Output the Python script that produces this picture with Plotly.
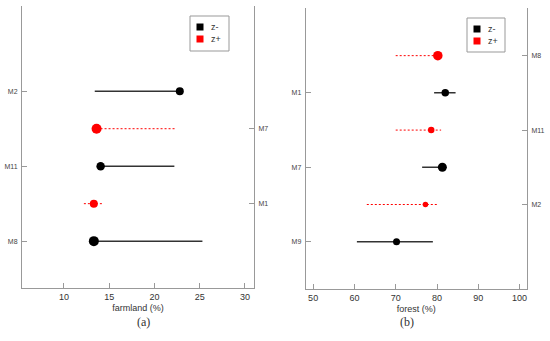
import plotly.graph_objects as go

# ---------------- data ----------------
# Panel (a): farmland (%) -- listed bottom to top
a_models = ["M8", "M1", "M11", "M7", "M2"]
a_group = ["z-", "z+", "z-", "z+", "z-"]
a_point = [13.3, 13.3, 14.05, 13.6, 22.8]
a_low = [13.3, 12.2, 14.05, 13.6, 13.4]
a_high = [25.3, 14.4, 22.2, 22.3, 22.8]
a_size = [10, 8, 8.5, 10, 8]

# Panel (b): forest (%) -- listed bottom to top
b_models = ["M9", "M2", "M7", "M11", "M1", "M8"]
b_group = ["z-", "z+", "z-", "z+", "z-", "z+"]
b_point = [70.2, 77.2, 81.3, 78.6, 82.0, 80.2]
b_low = [60.6, 63.0, 76.4, 70.0, 79.3, 70.0]
b_high = [79.0, 80.4, 81.3, 81.0, 84.5, 80.2]
b_size = [7, 5.5, 9, 6.5, 7.5, 9.5]

a_xticks = [10, 15, 20, 25, 30]
b_xticks = [50, 60, 70, 80, 90, 100]

legend_names = ["z-", "z+"]

COL = {"z-": "black", "z+": "red"}
LINE = {"z-": dict(color="#333333", width=1.5, dash="solid"),
        "z+": dict(color="red", width=1, dash="2px,2px")}
AX = "#999999"
FONT = "Liberation Sans, Arial, sans-serif"

fig = go.Figure()


def add_panel(models, group, point, low, high, size, xa, ya_left, ya_right):
    pos = list(range(1, len(models) + 1))
    yref = {"z-": ya_left, "z+": ya_right}
    for g in legend_names:
        xs, ys = [], []
        for p, gg, lo, hi in zip(pos, group, low, high):
            if gg == g:
                xs += [lo, hi, None]
                ys += [p, p, None]
        fig.add_trace(go.Scatter(x=xs, y=ys, mode="lines", line=LINE[g],
                                 xaxis=xa, yaxis=yref[g], showlegend=False,
                                 hoverinfo="skip"))
    for g in legend_names:
        idx = [i for i, gg in enumerate(group) if gg == g]
        fig.add_trace(go.Scatter(
            x=[point[i] for i in idx], y=[pos[i] for i in idx],
            mode="markers",
            marker=dict(color=COL[g], size=[size[i] for i in idx],
                        opacity=1, line=dict(width=0)),
            text=[models[i] for i in idx],
            xaxis=xa, yaxis=yref[g], showlegend=False, name=g))


add_panel(a_models, a_group, a_point, a_low, a_high, a_size, "x", "y", "y2")
add_panel(b_models, b_group, b_point, b_low, b_high, b_size, "x2", "y3", "y4")


def yax(models, group, want, rng, domain, side, anchor, overlay=None):
    pos = list(range(1, len(models) + 1))
    tv = [p for p, g in zip(pos, group) if g == want]
    tt = [m for m, g in zip(models, group) if g == want]
    d = dict(range=rng, domain=domain, side=side, anchor=anchor,
             tickvals=tv, ticktext=tt, showline=True, linecolor=AX, linewidth=1,
             ticks="inside", ticklen=5, tickcolor=AX, showgrid=False,
             zeroline=False, tickfont=dict(size=7, color="#444444", family=FONT),
             fixedrange=True, automargin=False, ticklabelstandoff=2)
    if overlay:
        d["overlaying"] = overlay
    return d


ya_dom = [0.1554, 0.982]
yb_dom = [0.1525, 0.9765]
xa_dom = [0.04, 0.4618]
xb_dom = [0.5558, 0.9582]


def xax(rng, domain, anchor, ticks, title):
    return dict(range=rng, domain=domain, anchor=anchor, tickvals=ticks,
                showline=True, linecolor=AX, linewidth=1, ticks="inside",
                ticklen=5, tickcolor=AX, showgrid=False, zeroline=False,
                automargin=False,
                tickfont=dict(size=9, color="#333333", family=FONT),
                title=dict(text=title, font=dict(size=9, color="#333333", family=FONT),
                           standoff=3))


# hand-drawn legend boxes (box, key squares, labels) in pixel->paper coords
W, H = 550, 341


def px(x):
    return x / W


def py(y):
    return (H - y) / H


shapes = []
annotations = []
for (bx0, by0, bx1, by1) in [(190, 16, 229, 51), (467, 18, 505, 52)]:
    shapes.append(dict(type="rect", xref="paper", yref="paper",
                       x0=px(bx0), x1=px(bx1), y0=py(by1), y1=py(by0),
                       line=dict(color="#999999", width=1), fillcolor="white"))
    for k, name in enumerate(legend_names):
        cy = by0 + 11 + k * 12
        sx = bx0 + 10
        shapes.append(dict(type="rect", xref="paper", yref="paper",
                           x0=px(sx - 3.5), x1=px(sx + 3.5),
                           y0=py(cy + 3.5), y1=py(cy - 3.5),
                           line=dict(width=0), fillcolor=COL[name]))
        annotations.append(dict(text=name, x=px(sx + 9), y=py(cy), xref="paper",
                                yref="paper", xanchor="left", yanchor="middle",
                                showarrow=False,
                                font=dict(size=9, color="#333333", family=FONT)))

annotations += [
    dict(text="(a)", x=px(135), y=py(331), xref="paper", yref="paper",
         showarrow=False, font=dict(size=12, color="#333333",
                                    family="Liberation Serif, serif")),
    dict(text="(b)", x=px(416), y=py(331), xref="paper", yref="paper",
         showarrow=False, font=dict(size=12, color="#333333",
                                    family="Liberation Serif, serif")),
]

fig.update_layout(
    width=550, height=341, margin=dict(l=0, r=0, t=0, b=0),
    paper_bgcolor="white", plot_bgcolor="white", showlegend=False,
    xaxis=xax([5.36, 31.0], xa_dom, "y", a_xticks, "farmland (%)"),
    xaxis2=xax([48.2, 101.8], xb_dom, "y3", b_xticks, "forest (%)"),
    yaxis=yax(a_models, a_group, "z-", [-0.25, 7.27], ya_dom, "left", "x"),
    yaxis2=yax(a_models, a_group, "z+", [-0.25, 7.27], ya_dom, "right", "x", "y"),
    yaxis3=yax(b_models, b_group, "z-", [-0.27, 7.28], yb_dom, "left", "x2"),
    yaxis4=yax(b_models, b_group, "z+", [-0.27, 7.28], yb_dom, "right", "x2", "y3"),
    shapes=shapes,
    annotations=annotations,
)

fig.write_html("out.html", config={"displayModeBar": False},
               post_script="document.body.style.margin='0';document.body.style.overflow='hidden';")
